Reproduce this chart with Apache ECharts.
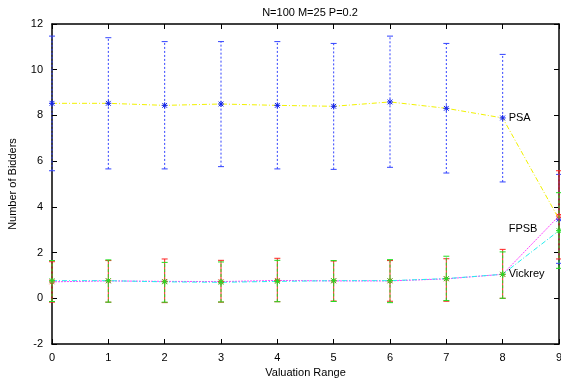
<!DOCTYPE html>
<html><head><meta charset="utf-8">
<script src="https://cdn.jsdelivr.net/npm/echarts@6/dist/echarts.min.js"></script>
<style>html,body{margin:0;padding:0;background:#fff}#c{width:561px;height:381px}</style>
</head><body><div id="c"></div>
<script>
const categories = [0,1,2,3,4,5,6,7,8,9];
const psaMean = [8.53,8.53,8.44,8.50,8.44,8.40,8.59,8.31,7.89,3.46];
const psaLow  = [5.58,5.66,5.66,5.76,5.66,5.64,5.73,5.48,5.09,1.53];
const psaHigh = [11.47,11.40,11.23,11.23,11.23,11.15,11.47,11.15,10.67,5.42];
const fpsbMean = [0.72,0.76,0.74,0.73,0.78,0.76,0.76,0.85,1.05,3.60];
const fpsbLow  = [-0.17,-0.17,-0.19,-0.17,-0.15,-0.12,-0.13,-0.13,0.00,1.72];
const fpsbHigh = [1.60,1.65,1.72,1.66,1.75,1.63,1.65,1.73,2.14,5.58];
const vickMean = [0.77,0.77,0.72,0.70,0.74,0.77,0.77,0.86,1.05,2.96];
const vickLow  = [-0.14,-0.17,-0.17,-0.16,-0.15,-0.14,-0.19,-0.10,0.00,1.31];
const vickHigh = [1.65,1.68,1.57,1.59,1.66,1.65,1.69,1.84,2.03,4.62];
const yTicks = [-2,0,2,4,6,8,10,12];

const FONT = 'Liberation Sans, Arial, sans-serif';
function pts(mean){ return categories.map((c,i)=>[c,mean[i]]); }
function ebData(mean,lo,hi){ return categories.map((c,i)=>[c,mean[i],lo[i],hi[i]]); }

function errRender(color, dash, markColor){
  return function(params, api){
    const x = api.value(0), m = api.value(1), lo = api.value(2), hi = api.value(3);
    const pLo = api.coord([x,lo]), pHi = api.coord([x,hi]), pM = api.coord([x,m]);
    const cw = 3, s = 3;
    const st = {stroke: color, lineWidth: 1, lineDash: dash};
    const sm = {stroke: markColor, lineWidth: 1};
    return {type:'group', children:[
      {type:'line', shape:{x1:pLo[0],y1:pLo[1],x2:pHi[0],y2:pHi[1]}, style:st},
      {type:'line', shape:{x1:pLo[0]-cw,y1:pLo[1],x2:pLo[0]+cw,y2:pLo[1]}, style:{stroke:color,lineWidth:1}},
      {type:'line', shape:{x1:pHi[0]-cw,y1:pHi[1],x2:pHi[0]+cw,y2:pHi[1]}, style:{stroke:color,lineWidth:1}},
      {type:'line', shape:{x1:pM[0]-s,y1:pM[1],x2:pM[0]+s,y2:pM[1]}, style:sm},
      {type:'line', shape:{x1:pM[0],y1:pM[1]-s,x2:pM[0],y2:pM[1]+s}, style:sm},
      {type:'line', shape:{x1:pM[0]-s*0.8,y1:pM[1]-s*0.8,x2:pM[0]+s*0.8,y2:pM[1]+s*0.8}, style:sm},
      {type:'line', shape:{x1:pM[0]-s*0.8,y1:pM[1]+s*0.8,x2:pM[0]+s*0.8,y2:pM[1]-s*0.8}, style:sm}
    ]};
  };
}

const chart = echarts.init(document.getElementById('c'), null, {renderer:'canvas'});
const axisCommon = {
  axisLine:{show:true, onZero:false, lineStyle:{color:'#000', width:1.5}},
  axisTick:{show:true, inside:true, length:5, lineStyle:{color:'#000'}},
  splitLine:{show:false}
};
chart.setOption({
  animation:false,
  backgroundColor:'#fff',
  title:{text:'N=100 M=25 P=0.2', left:305, top:2, textAlign:'center',
    textStyle:{fontFamily:FONT, fontSize:11, fontWeight:'normal', color:'#000'}},
  grid:{left:52, right:2, top:24, bottom:37, containLabel:false, outerBoundsMode:'none'},
  xAxis:[
    Object.assign({type:'value', min:0, max:9, interval:1, position:'bottom',
      name:'Valuation Range', nameLocation:'middle', nameGap:22,
      nameTextStyle:{fontFamily:FONT, fontSize:11, color:'#000'},
      axisLabel:{fontFamily:FONT, fontSize:11, color:'#000', margin:8, hideOverlap:false}}, axisCommon),
    Object.assign({type:'value', min:0, max:9, interval:1, position:'top', axisLabel:{show:false}}, axisCommon)
  ],
  yAxis:[
    Object.assign({type:'value', min:-2, max:12, interval:2, position:'left',
      name:'Number of Bidders', nameLocation:'middle', nameGap:34, nameRotate:90,
      nameTextStyle:{fontFamily:FONT, fontSize:11, color:'#000'},
      axisLabel:{fontFamily:FONT, fontSize:11, color:'#000', margin:9}}, axisCommon),
    Object.assign({type:'value', min:-2, max:12, interval:2, position:'right', axisLabel:{show:false}}, axisCommon)
  ],
  series:[
    {type:'line', name:'PSA', data:pts(psaMean), symbol:'none', clip:false,
      lineStyle:{color:'#f2f200', width:1, type:[5,2,1,2]}, z:2,
      markPoint:{symbol:'circle', symbolSize:0, data:[{coord:[8,psaMean[8]], value:'PSA'}],
        label:{show:true, position:'right', distance:6, formatter:'PSA', fontFamily:FONT, fontSize:11, color:'#000'}}},
    {type:'line', name:'FPSB', data:pts(fpsbMean), symbol:'none', clip:false,
      lineStyle:{color:'#ff44ff', width:1, type:[2,1]}, z:2,
      markPoint:{symbol:'circle', symbolSize:0, data:[{coord:[8,3.05], value:'FPSB'}],
        label:{show:true, position:'right', distance:6, formatter:'FPSB', fontFamily:FONT, fontSize:11, color:'#000'}}},
    {type:'line', name:'Vickrey', data:pts(vickMean), symbol:'none', clip:false,
      lineStyle:{color:'#22eeee', width:1, type:[5,2,1,2]}, z:2,
      markPoint:{symbol:'circle', symbolSize:0, data:[{coord:[8,vickMean[8]], value:'Vickrey'}],
        label:{show:true, position:'right', distance:6, formatter:'Vickrey', fontFamily:FONT, fontSize:11, color:'#000'}}},
    {type:'custom', name:'PSA err', data:ebData(psaMean,psaLow,psaHigh), renderItem:errRender('#3344ff',[2,2],'#1122ee'), z:3, clip:false},
    {type:'custom', name:'FPSB err', data:ebData(fpsbMean,fpsbLow,fpsbHigh), renderItem:errRender('#ff2222',null,'#ff3333'), z:4, clip:false},
    {type:'custom', name:'Vickrey err', data:ebData(vickMean,vickLow,vickHigh), renderItem:errRender('#22dd22',[3,2],'#22dd22'), z:5, clip:false}
  ]
});
</script></body></html>
